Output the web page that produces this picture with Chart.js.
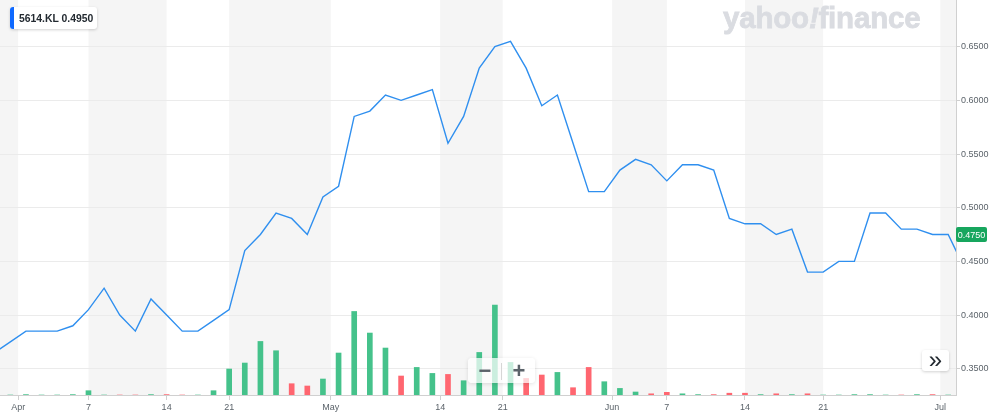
<!DOCTYPE html>
<html>
<head>
<meta charset="utf-8">
<script src="https://cdn.jsdelivr.net/npm/chart.js"></script>
<style>
  html, body { margin: 0; padding: 0; background: #fff; }
  #wrap { position: relative; width: 1000px; height: 419px; overflow: hidden; font-family: "Liberation Sans", Arial, sans-serif; }
  #c { position: absolute; left: 0; top: 0; }
  #logo { position: absolute; left: 723px; top: 4px; font-weight: bold; font-size: 29.5px; line-height: 28px; color: #dadce1; -webkit-text-stroke: 0.8px #dadce1; white-space: nowrap; letter-spacing: -0.2px; }
  #logo .bang { display: inline-block; font-style: italic; }
  #tag { position: absolute; left: 10px; top: 7px; width: 87px; height: 22px; background: #fff; border-radius: 3px; box-shadow: 0 1px 3px rgba(0,0,0,0.18); }
  #tag .bar { position: absolute; left: 0; top: 0; width: 4px; height: 22px; background: #0f69ff; border-radius: 3px 0 0 3px; }
  #tag .t { position: absolute; left: 9px; top: 0; line-height: 23px; font-size: 10.4px; font-weight: bold; color: #232a31; white-space: pre; }
  #zoomctl { position: absolute; left: 468px; top: 358px; width: 67px; height: 25px; background: rgba(255,255,255,0.72); border-radius: 4px; box-shadow: 0 1px 4px rgba(0,0,0,0.12); }
  #zoomctl .g { position: absolute; top: 0; width: 20px; text-align: center; line-height: 25px; font-size: 22px; font-weight: bold; color: #5b636a; }
  #zoomctl .dv { position: absolute; left: 33px; top: 5px; width: 1px; height: 17px; background: #d6d6d6; }
  #next { position: absolute; left: 922px; top: 350px; width: 27px; height: 21px; background: #fff; border-radius: 3px; box-shadow: 0 1px 3px rgba(0,0,0,0.18); text-align: center; line-height: 19px; font-size: 24px; color: #232a31; }
</style>
</head>
<body>
<div id="wrap">
  <canvas id="c" width="1000" height="419"></canvas>
  <div id="logo">yahoo<span class="bang">!</span>finance</div>
  <div id="tag"><span class="bar"></span><span class="t">5614.KL 0.4950</span></div>
  <div id="zoomctl"><span class="g" style="left:7px">−</span><span class="dv"></span><span class="g" style="left:41px">+</span></div>
  <div id="next">»</div>
</div>
<script>
// trading-day index of each session
const dayIndex = [0,1,2,3,4,5,6,7,8,9,10,11,12,13,14,15,16,17,18,19,20,21,22,23,24,25,26,27,28,29,30,31,32,33,34,35,36,37,38,39,40,41,42,43,44,45,46,47,48,49,50,51,52,53,54,55,56,57,58,59,60,61,62];
// closing prices (MYR)
const closePrices = [
  0.365,0.375,0.385,0.385,0.385,0.390,0.405,0.425,0.400,0.385,
  0.415,0.400,0.385,0.385,0.395,0.405,0.460,0.475,0.495,0.490,
  0.475,0.510,0.520,0.585,0.590,0.605,0.600,0.605,0.610,0.560,
  0.585,0.630,0.650,0.655,0.630,0.595,0.605,0.560,0.515,0.515,
  0.535,0.545,0.540,0.525,0.540,0.540,0.535,0.490,0.485,0.485,
  0.475,0.480,0.440,0.440,0.450,0.450,0.495,0.495,0.480,0.480,
  0.475,0.475,0.445
];
// volume (thousand shares)
const volumes = [
  0,0,4,0,0,4,43,0,0,0,
  4,4,0,0,43,260,320,536,443,113,
  90,160,420,836,620,470,190,276,216,206,
  143,426,900,326,166,200,226,73,276,133,
  66,30,12,27,12,4,4,18,18,4,
  12,4,12,0,0,4,4,0,0,4,
  4,0,0
];
// x-axis ticks (positions in trading-day index) and labels
const tickPositions = [1.5, 6, 11, 15, 21.5, 28.5, 32.5, 39.5, 43, 48, 53, 60.5];
const tickLabels = ['Apr','7','14','21','May','14','21','Jun','7','14','21','Jul'];
// price axis ticks
const priceTicks = [0.35, 0.40, 0.45, 0.50, 0.55, 0.60, 0.65];
const lastPrice = 0.475;

const FONT = '"Liberation Sans", Arial, sans-serif';
const UP = '#45c28b', DOWN = '#ff6670';
const barColors = volumes.map((v, i) => (i === 0 || closePrices[i] >= closePrices[i-1]) ? UP : DOWN);

const bandsPlugin = {
  id: 'bands',
  beforeDraw(chart) {
    const { ctx, chartArea: a, scales: { x } } = chart;
    const edges = [x.min, ...tickPositions, x.max];
    ctx.save();
    ctx.fillStyle = '#f5f5f5';
    for (let k = 0; k < edges.length - 1; k++) {
      if (k % 2 === 0) {
        const x1 = x.getPixelForValue(edges[k]);
        const x2 = x.getPixelForValue(edges[k+1]);
        ctx.fillRect(x1, a.top, x2 - x1, a.bottom - a.top);
      }
    }
    ctx.restore();
  }
};

const lastPricePlugin = {
  id: 'lastPrice',
  afterDraw(chart) {
    const { ctx, chartArea: a, scales: { y } } = chart;
    const py = y.getPixelForValue(lastPrice);
    ctx.save();
    ctx.fillStyle = '#17a65e';
    ctx.beginPath();
    ctx.roundRect(a.right, Math.round(py - 7.5), 31, 15, 2);
    ctx.fill();
    ctx.fillStyle = '#fff';
    ctx.font = '9px ' + FONT;
    ctx.textAlign = 'center';
    ctx.textBaseline = 'middle';
    ctx.fillText(lastPrice.toFixed(4), a.right + 15.5, py + 0.5);
    ctx.restore();
  }
};

new Chart(document.getElementById('c'), {
  type: 'line',
  data: {
    datasets: [
      {
        type: 'line',
        data: dayIndex.map((d, i) => ({ x: d, y: closePrices[i] })),
        borderColor: '#2f8fef',
        borderWidth: 1.4,
        pointRadius: 0,
        tension: 0,
        fill: false,
        yAxisID: 'y',
        order: 1
      },
      {
        type: 'bar',
        data: dayIndex.map((d, i) => ({ x: d, y: volumes[i] })),
        backgroundColor: barColors,
        borderWidth: 0,
        barThickness: 5,
        yAxisID: 'vol',
        order: 2
      }
    ]
  },
  options: {
    responsive: false,
    animation: false,
    devicePixelRatio: 1,
    layout: { padding: 0 },
    plugins: { legend: { display: false }, tooltip: { enabled: false } },
    scales: {
      x: {
        type: 'linear',
        min: 0.34,
        max: 61.5,
        bounds: 'data',
        offset: false,
        position: 'bottom',
        afterBuildTicks(s) { s.ticks = tickPositions.map(v => ({ value: v })); },
        ticks: {
          autoSkip: false, maxRotation: 0, minRotation: 0,
          callback: (v, i) => tickLabels[i],
          color: '#5b636a', font: { size: 9, family: FONT }, padding: 2
        },
        grid: { drawOnChartArea: false, offset: false, tickLength: 5, tickColor: '#cfcfcf', color: '#cfcfcf' },
        border: { display: true, color: '#d0d0d0' },
        afterFit(s) { s.height = 24; s.paddingLeft = 0; s.paddingRight = 0; }
      },
      y: {
        type: 'linear',
        position: 'right',
        min: 0.3255,
        max: 0.6935,
        bounds: 'data',
        afterBuildTicks(s) { s.ticks = priceTicks.map(v => ({ value: v })); },
        ticks: {
          callback: v => Number(v).toFixed(4),
          color: '#5b636a', font: { size: 9, family: FONT }, padding: 1
        },
        grid: { color: '#ebebeb', tickLength: 4, tickColor: '#cfcfcf' },
        border: { display: true, color: '#d0d0d0' },
        afterFit(s) { s.width = 44; s.paddingTop = 0; s.paddingBottom = 0; }
      },
      vol: {
        type: 'linear',
        display: false,
        min: 0,
        max: 3953
      }
    }
  },
  plugins: [bandsPlugin, lastPricePlugin]
});
</script>
</body>
</html>
